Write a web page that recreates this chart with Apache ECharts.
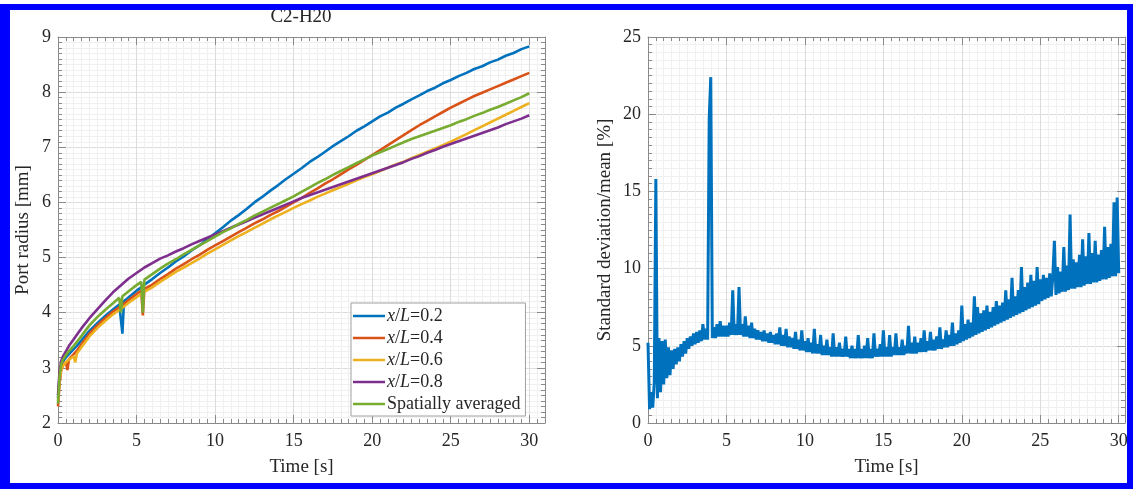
<!DOCTYPE html>
<html>
<head>
<meta charset="utf-8">
<script src="https://cdn.jsdelivr.net/npm/echarts@6/dist/echarts.min.js"></script>
<style>
  html, body { margin: 0; padding: 0; background: #ffffff; }
  #chart { width: 1133px; height: 489px; }
  #frame {
    position: absolute; left: 0; top: 4px; width: 1133px; height: 485px;
    box-sizing: border-box; border: 6px solid #0000ff; border-left-width: 10px;
    pointer-events: none;
  }
</style>
</head>
<body>
<div id="chart"></div>
<div id="frame"></div>
<script>
// Sample times [s] for the port radius traces (denser around the early transients)
const TIME = [0, 0.1, 0.2, 0.3, 0.5, 0.6, 0.7, 1.0, 1.1, 1.2, 1.5, 2.0, 2.5, 3.0, 3.5, 3.9, 4.0, 4.1, 4.2, 4.5,
  5.0, 5.3, 5.4, 5.5, 6.0, 6.5, 7.0, 7.5, 8.0, 8.5, 9.0, 9.5, 10.0, 10.5, 11.0, 11.5, 12.0, 12.5, 13.0, 13.5,
  14.0, 14.5, 15.0, 15.5, 16.0, 16.5, 17.0, 17.5, 18.0, 18.5, 19.0, 19.5, 20.0, 20.5, 21.0, 21.5, 22.0, 22.5,
  23.0, 23.5, 24.0, 24.5, 25.0, 25.5, 26.0, 26.5, 27.0, 27.5, 28.0, 28.5, 29.0, 29.5, 30.0];

// Port radius [mm] at each axial station
const R_02 = [2.45, 2.86, 3.04, 3.11, 3.19, 3.22, 3.25, 3.34, 3.37, 3.40, 3.50, 3.67, 3.81, 3.94, 4.06, 4.15, 4.17, 3.62, 4.21, 4.28,
  4.40, 4.46, 4.48, 4.51, 4.61, 4.72, 4.82, 4.93, 5.02, 5.13, 5.22, 5.33, 5.44, 5.55, 5.67, 5.77, 5.88, 6.00, 6.10, 6.21,
  6.31, 6.42, 6.52, 6.62, 6.73, 6.82, 6.92, 7.02, 7.11, 7.20, 7.30, 7.38, 7.47, 7.56, 7.63, 7.72, 7.79, 7.87,
  7.94, 8.02, 8.08, 8.16, 8.22, 8.29, 8.35, 8.42, 8.47, 8.54, 8.59, 8.66, 8.71, 8.78, 8.83];
const R_04 = [2.30, 2.72, 2.95, 3.04, 3.11, 2.96, 3.16, 3.25, 3.28, 3.31, 3.43, 3.62, 3.77, 3.90, 4.02, 4.10, 4.12, 4.14, 4.16, 4.23,
  4.34, 4.40, 3.95, 4.43, 4.51, 4.61, 4.70, 4.80, 4.88, 4.97, 5.05, 5.14, 5.22, 5.30, 5.38, 5.46, 5.54, 5.62, 5.69, 5.77,
  5.84, 5.92, 6.00, 6.08, 6.17, 6.25, 6.34, 6.42, 6.51, 6.60, 6.68, 6.77, 6.86, 6.95, 7.04, 7.13, 7.22, 7.31,
  7.40, 7.48, 7.56, 7.64, 7.72, 7.79, 7.86, 7.93, 7.99, 8.05, 8.11, 8.17, 8.23, 8.29, 8.35];
const R_06 = [2.40, 2.78, 2.96, 3.03, 3.10, 3.13, 3.15, 3.21, 3.10, 3.26, 3.38, 3.57, 3.72, 3.85, 3.97, 4.05, 4.07, 4.09, 4.11, 4.18,
  4.28, 4.34, 4.36, 4.38, 4.46, 4.56, 4.65, 4.74, 4.82, 4.90, 4.98, 5.07, 5.15, 5.23, 5.31, 5.39, 5.46, 5.54, 5.61, 5.69,
  5.76, 5.83, 5.90, 5.97, 6.03, 6.10, 6.16, 6.22, 6.28, 6.34, 6.40, 6.46, 6.51, 6.57, 6.63, 6.69, 6.74, 6.80,
  6.86, 6.92, 6.98, 7.04, 7.10, 7.17, 7.24, 7.31, 7.38, 7.45, 7.52, 7.59, 7.66, 7.73, 7.80];
const R_08 = [2.50, 2.95, 3.12, 3.20, 3.30, 3.35, 3.40, 3.52, 3.56, 3.60, 3.72, 3.90, 4.06, 4.22, 4.37, 4.47, 4.50, 4.52, 4.55, 4.62,
  4.72, 4.78, 4.80, 4.82, 4.90, 4.98, 5.04, 5.11, 5.17, 5.24, 5.30, 5.36, 5.42, 5.48, 5.54, 5.60, 5.66, 5.72, 5.78, 5.84,
  5.90, 5.96, 6.02, 6.08, 6.13, 6.18, 6.23, 6.28, 6.33, 6.38, 6.43, 6.48, 6.53, 6.58, 6.63, 6.68, 6.73, 6.79,
  6.84, 6.90, 6.95, 7.01, 7.06, 7.11, 7.16, 7.21, 7.26, 7.31, 7.36, 7.42, 7.47, 7.52, 7.58];
const R_AVG = [2.35, 2.85, 3.06, 3.14, 3.23, 3.27, 3.30, 3.40, 3.43, 3.47, 3.58, 3.77, 3.92, 4.05, 4.17, 4.27, 4.00, 4.30, 4.32, 4.39,
  4.50, 4.56, 4.00, 4.60, 4.70, 4.80, 4.89, 4.97, 5.06, 5.14, 5.22, 5.30, 5.38, 5.46, 5.53, 5.61, 5.68, 5.76, 5.83, 5.90,
  5.97, 6.04, 6.11, 6.19, 6.27, 6.35, 6.42, 6.50, 6.57, 6.64, 6.71, 6.78, 6.85, 6.91, 6.97, 7.03, 7.09, 7.15,
  7.20, 7.25, 7.30, 7.35, 7.40, 7.46, 7.51, 7.57, 7.62, 7.68, 7.73, 7.79, 7.85, 7.91, 7.98];

const SERIES_NAMES = ['x/L=0.2', 'x/L=0.4', 'x/L=0.6', 'x/L=0.8', 'Spatially averaged'];
const SERIES_COLORS = ['#0072BD', '#D95319', '#EDB120', '#7E2F8E', '#77AC30'];

// Standard deviation / mean [%], sampled every 0.1 s from t = 0 to 30 s
const CV_T0 = 0;
const CV_DT = 0.1;
const CV = [
  5.2, 0.9, 2.0, 1.0, 2.6, 15.8, 1.6, 5.5, 2.0, 5.3,
  2.5, 5.4, 2.9, 4.9, 3.1, 4.7, 3.5, 4.8, 3.8, 4.9,
  4.0, 5.1, 4.3, 5.3, 4.5, 5.5, 4.8, 5.6, 5.0, 5.8,
  5.1, 5.9, 5.2, 6.0, 5.3, 6.4, 5.4, 6.1, 5.4, 19.7,
  22.4, 5.5, 6.2, 5.5, 6.4, 5.6, 6.6, 5.6, 6.3, 5.6,
  6.3, 5.6, 6.5, 5.7, 8.6, 5.7, 6.4, 5.7, 8.8, 5.7,
  6.4, 5.6, 6.9, 5.6, 6.3, 5.5, 6.5, 5.5, 6.1, 5.4,
  6.0, 5.4, 5.9, 5.3, 6.0, 5.3, 5.8, 5.2, 5.9, 5.2,
  5.7, 5.1, 5.8, 5.1, 6.2, 5.0, 5.7, 5.0, 6.1, 4.9,
  5.6, 4.9, 5.5, 4.8, 5.9, 4.8, 5.4, 4.7, 6.0, 4.7,
  5.3, 4.6, 5.5, 4.6, 5.2, 4.5, 6.1, 4.5, 5.1, 4.5,
  5.7, 4.4, 5.0, 4.4, 5.4, 4.4, 4.9, 4.3, 5.8, 4.3,
  4.9, 4.3, 5.2, 4.3, 4.8, 4.3, 5.6, 4.3, 4.8, 4.2,
  5.0, 4.2, 4.8, 4.2, 5.7, 4.2, 4.8, 4.2, 5.0, 4.2,
  5.5, 4.2, 4.8, 4.2, 5.8, 4.3, 4.8, 4.3, 5.1, 4.3,
  6.0, 4.3, 4.9, 4.3, 5.7, 4.3, 4.9, 4.4, 5.8, 4.4,
  4.9, 4.4, 5.4, 4.4, 5.0, 4.5, 6.3, 4.5, 5.2, 4.5,
  5.6, 4.5, 5.2, 4.6, 5.5, 4.6, 6.0, 4.6, 5.3, 4.7,
  5.9, 4.7, 5.4, 4.7, 5.6, 4.8, 6.2, 4.8, 5.4, 4.9,
  6.0, 4.9, 5.7, 5.0, 6.5, 5.0, 5.8, 5.1, 6.0, 5.2,
  7.6, 5.3, 6.4, 5.4, 6.7, 5.5, 6.5, 5.6, 8.2, 5.7,
  7.5, 5.8, 7.1, 5.9, 7.3, 6.0, 7.6, 6.1, 7.2, 6.2,
  7.5, 6.3, 7.9, 6.4, 7.6, 6.5, 7.8, 6.6, 8.6, 6.7,
  8.0, 6.8, 9.4, 6.9, 8.2, 7.0, 8.6, 7.1, 10.1, 7.2,
  8.8, 7.3, 9.1, 7.4, 9.6, 7.5, 9.2, 7.6, 10.1, 7.7,
  9.3, 7.9, 9.6, 8.0, 9.4, 8.1, 9.7, 8.2, 9.5, 11.8,
  8.3, 10.1, 8.4, 9.8, 8.5, 11.4, 8.5, 10.2, 8.6, 13.5,
  8.7, 10.6, 8.7, 10.4, 8.8, 10.9, 8.8, 11.9, 8.9, 10.8,
  9.0, 12.3, 9.0, 11.0, 9.1, 11.8, 9.1, 10.9, 9.2, 11.2,
  9.3, 12.7, 9.3, 11.4, 9.4, 11.6, 9.5, 14.3, 9.5, 14.6,
  9.7
];

// Axis ranges
const X_MAX_RADIUS = 31;
const X_MAX_CV = 30.4;
const R_MIN = 2, R_MAX = 9;
const CV_MIN = 0, CV_MAX = 25;

const FONT = 'Liberation Serif';
const TXT = '#262626';
const AXC = '#8a8a8a';
const GRID_MAJOR = '#dcdcdc';
const GRID_MINOR = '#f0f0f0';

const RADII = [R_02, R_04, R_06, R_08, R_AVG];

function toPairs(t, v) { return v.map((y, i) => [t[i], y]); }

// bottom+top major axes, bottom+top minor axes (every 0.5 s) for one grid
function timeAxes(gridIndex, xMax) {
  const minorColors = [];
  for (let k = 0; k < 10; k++) minorColors.push(k === 0 ? 'rgba(0,0,0,0)' : GRID_MINOR);
  const base = { type: 'value', gridIndex: gridIndex, min: 0, max: xMax };
  return [
    Object.assign({}, base, {
      position: 'bottom', interval: 5,
      axisLine: { show: true, onZero: false, lineStyle: { color: AXC, width: 1 } },
      axisTick: { show: true, inside: true, length: 8, lineStyle: { color: AXC } },
      axisLabel: {
        margin: 9, fontFamily: FONT, fontSize: 18, color: TXT,
        formatter: v => (Math.abs(v % 5) < 1e-9 ? String(v) : '')
      },
      splitLine: { show: true, lineStyle: { color: GRID_MAJOR, width: 1 } },
      name: 'Time [s]', nameLocation: 'middle', nameGap: 35,
      nameTextStyle: { fontFamily: FONT, fontSize: 19, color: TXT }
    }),
    Object.assign({}, base, {
      position: 'top', interval: 5,
      axisLine: { show: true, onZero: false, lineStyle: { color: AXC, width: 1 } },
      axisTick: { show: true, inside: true, length: 8, lineStyle: { color: AXC } },
      axisLabel: { show: false }, splitLine: { show: false }
    }),
    Object.assign({}, base, {
      position: 'bottom', interval: 0.5,
      axisLine: { show: false, onZero: false },
      axisTick: { show: true, inside: true, length: 4, lineStyle: { color: AXC } },
      axisLabel: { show: false },
      splitLine: { show: true, lineStyle: { color: minorColors, width: 1 } }
    }),
    Object.assign({}, base, {
      position: 'top', interval: 0.5,
      axisLine: { show: false, onZero: false },
      axisTick: { show: true, inside: true, length: 4, lineStyle: { color: AXC } },
      axisLabel: { show: false }, splitLine: { show: false }
    })
  ];
}

function valueAxes(gridIndex, min, max, interval, name, nameGap) {
  const base = { type: 'value', gridIndex: gridIndex, min: min, max: max, interval: interval };
  return [
    Object.assign({}, base, {
      position: 'left',
      axisLine: { show: true, onZero: false, lineStyle: { color: AXC, width: 1 } },
      axisTick: { show: true, inside: true, length: 8, lineStyle: { color: AXC } },
      minorTick: { show: true, splitNumber: 10, length: 4, lineStyle: { color: AXC } },
      axisLabel: { margin: 7, fontFamily: FONT, fontSize: 18, color: TXT },
      splitLine: { show: true, lineStyle: { color: GRID_MAJOR, width: 1 } },
      minorSplitLine: { show: true, lineStyle: { color: GRID_MINOR, width: 1 } },
      name: name, nameLocation: 'middle', nameGap: nameGap,
      nameTextStyle: { fontFamily: FONT, fontSize: 19, color: TXT }
    }),
    Object.assign({}, base, {
      position: 'right',
      axisLine: { show: true, onZero: false, lineStyle: { color: AXC, width: 1 } },
      axisTick: { show: true, inside: true, length: 8, lineStyle: { color: AXC } },
      minorTick: { show: true, splitNumber: 10, length: 4, lineStyle: { color: AXC } },
      axisLabel: { show: false }, splitLine: { show: false }
    })
  ];
}

const xAxes = timeAxes(0, X_MAX_RADIUS).concat(timeAxes(1, X_MAX_CV));
const yAxes = valueAxes(0, R_MIN, R_MAX, 1, 'Port radius [mm]', 25)
  .concat(valueAxes(1, CV_MIN, CV_MAX, 5, 'Standard deviation/mean [%]', 33));

const series = RADII.map((vals, i) => ({
  type: 'line', name: SERIES_NAMES[i], xAxisIndex: 0, yAxisIndex: 0,
  data: toPairs(TIME, vals), showSymbol: false, symbol: 'none',
  lineStyle: { color: SERIES_COLORS[i], width: 2.6 }, itemStyle: { color: SERIES_COLORS[i] },
  animation: false, z: 3
}));

series.push({
  type: 'line', name: 'cv', xAxisIndex: 4, yAxisIndex: 2,
  data: CV.map((v, i) => [+(CV_T0 + i * CV_DT).toFixed(2), v]),
  showSymbol: false, symbol: 'none',
  lineStyle: { color: '#0072BD', width: 3, join: 'miter', miterLimit: 2 }, animation: false, z: 3
});

const chart = echarts.init(document.getElementById('chart'), null, { renderer: 'canvas' });
chart.setOption({
  animation: false,
  backgroundColor: '#ffffff',
  grid: [
    { left: 58, top: 37, width: 487, height: 386, containLabel: false },
    { left: 648, top: 37, width: 477, height: 386, containLabel: false }
  ],
  graphic: [{
    type: 'text', x: 301, y: 17,
    style: { text: 'C2-H20', fill: TXT, font: '19px "Liberation Serif"', textAlign: 'center', textVerticalAlign: 'middle' }
  }],
  legend: {
    data: SERIES_NAMES, orient: 'vertical', left: 351, top: 303,
    backgroundColor: '#ffffff', borderColor: '#a0a0a0', borderWidth: 1,
    padding: [4, 5, 3, 2], itemGap: 4, itemWidth: 32, itemHeight: 2.5, icon: 'rect',
    textStyle: {
      fontFamily: FONT, fontSize: 18, color: TXT, lineHeight: 18, padding: [0, 0, 0, -3],
      rich: { i: { fontFamily: FONT, fontSize: 18, fontStyle: 'italic', color: TXT, lineHeight: 18 } }
    },
    formatter: name => name.indexOf('x/L') === 0 ? '{i|x}/{i|L}' + name.slice(3) : name,
    selectedMode: false
  },
  xAxis: xAxes,
  yAxis: yAxes,
  series: series
});
</script>
</body>
</html>
